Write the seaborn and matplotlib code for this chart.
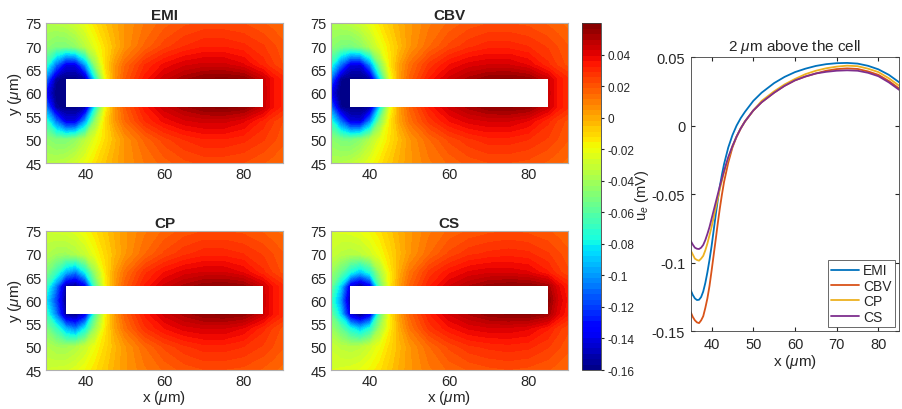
import matplotlib
matplotlib.use("Agg")
import matplotlib.pyplot as plt
from matplotlib.patches import Rectangle
import seaborn as sns
import numpy as np
import pandas as pd

# ---- field grids ----
x_grid = [30, 32.5, 35, 37.5, 40, 42.5, 45, 47.5, 50, 55, 60, 65, 70, 75, 80, 85, 87.5, 90]
y_grid = [45, 50, 54, 57, 60, 63, 66, 70, 75]

field_emi = [
    [-0.036, -0.035, -0.033, -0.028, -0.021, -0.013, -0.006, 0.000, 0.005, 0.012, 0.017, 0.021, 0.023, 0.023, 0.022, 0.019, 0.017, 0.015],
    [-0.045, -0.050, -0.050, -0.045, -0.034, -0.022, -0.012, -0.003, 0.005, 0.016, 0.024, 0.029, 0.032, 0.032, 0.030, 0.026, 0.023, 0.020],
    [-0.070, -0.108, -0.140, -0.140, -0.100, -0.044, -0.012, 0.004, 0.015, 0.029, 0.037, 0.042, 0.044, 0.044, 0.040, 0.031, 0.026, 0.022],
    [-0.105, -0.155, -0.160, -0.160, -0.152, -0.078, -0.020, 0.005, 0.018, 0.034, 0.045, 0.052, 0.057, 0.058, 0.056, 0.045, 0.036, 0.031],
    [-0.135, -0.160, -0.160, -0.160, -0.152, -0.080, -0.020, 0.005, 0.018, 0.034, 0.045, 0.052, 0.057, 0.058, 0.056, 0.046, 0.036, 0.031],
    [-0.105, -0.155, -0.160, -0.160, -0.152, -0.078, -0.020, 0.005, 0.018, 0.034, 0.045, 0.052, 0.057, 0.058, 0.056, 0.045, 0.036, 0.031],
    [-0.070, -0.108, -0.140, -0.140, -0.100, -0.044, -0.012, 0.004, 0.015, 0.029, 0.037, 0.042, 0.044, 0.044, 0.040, 0.031, 0.026, 0.022],
    [-0.045, -0.050, -0.050, -0.045, -0.034, -0.022, -0.012, -0.003, 0.005, 0.016, 0.024, 0.029, 0.032, 0.032, 0.030, 0.026, 0.023, 0.020],
    [-0.036, -0.035, -0.033, -0.028, -0.021, -0.013, -0.006, 0.000, 0.005, 0.012, 0.017, 0.021, 0.023, 0.023, 0.022, 0.019, 0.017, 0.015],
]

field_cbv = [
    [-0.037, -0.036, -0.034, -0.029, -0.022, -0.014, -0.007, -0.001, 0.004, 0.011, 0.016, 0.020, 0.022, 0.022, 0.021, 0.018, 0.016, 0.014],
    [-0.046, -0.051, -0.052, -0.047, -0.036, -0.023, -0.013, -0.004, 0.004, 0.015, 0.023, 0.028, 0.031, 0.031, 0.029, 0.025, 0.022, 0.019],
    [-0.072, -0.110, -0.142, -0.143, -0.105, -0.049, -0.015, 0.002, 0.013, 0.027, 0.036, 0.041, 0.043, 0.043, 0.039, 0.030, 0.025, 0.021],
    [-0.107, -0.156, -0.160, -0.160, -0.154, -0.083, -0.023, 0.003, 0.016, 0.033, 0.044, 0.051, 0.056, 0.057, 0.055, 0.044, 0.035, 0.030],
    [-0.137, -0.160, -0.160, -0.160, -0.154, -0.085, -0.023, 0.003, 0.016, 0.033, 0.044, 0.051, 0.056, 0.057, 0.055, 0.045, 0.035, 0.030],
    [-0.107, -0.156, -0.160, -0.160, -0.154, -0.083, -0.023, 0.003, 0.016, 0.033, 0.044, 0.051, 0.056, 0.057, 0.055, 0.044, 0.035, 0.030],
    [-0.072, -0.110, -0.142, -0.143, -0.105, -0.049, -0.015, 0.002, 0.013, 0.027, 0.036, 0.041, 0.043, 0.043, 0.039, 0.030, 0.025, 0.021],
    [-0.046, -0.051, -0.052, -0.047, -0.036, -0.023, -0.013, -0.004, 0.004, 0.015, 0.023, 0.028, 0.031, 0.031, 0.029, 0.025, 0.022, 0.019],
    [-0.037, -0.036, -0.034, -0.029, -0.022, -0.014, -0.007, -0.001, 0.004, 0.011, 0.016, 0.020, 0.022, 0.022, 0.021, 0.018, 0.016, 0.014],
]

field_cp = [
    [-0.029, -0.028, -0.027, -0.024, -0.019, -0.013, -0.007, -0.001, 0.004, 0.011, 0.016, 0.020, 0.022, 0.022, 0.021, 0.018, 0.016, 0.014],
    [-0.036, -0.040, -0.041, -0.037, -0.030, -0.020, -0.011, -0.003, 0.004, 0.015, 0.023, 0.028, 0.031, 0.031, 0.029, 0.025, 0.022, 0.019],
    [-0.050, -0.068, -0.095, -0.108, -0.080, -0.042, -0.015, 0.002, 0.013, 0.028, 0.036, 0.041, 0.043, 0.043, 0.039, 0.030, 0.025, 0.021],
    [-0.068, -0.105, -0.155, -0.160, -0.138, -0.062, -0.018, 0.004, 0.017, 0.033, 0.044, 0.051, 0.056, 0.057, 0.055, 0.044, 0.035, 0.030],
    [-0.082, -0.118, -0.158, -0.160, -0.138, -0.062, -0.018, 0.004, 0.017, 0.033, 0.044, 0.051, 0.056, 0.057, 0.055, 0.045, 0.035, 0.030],
    [-0.068, -0.105, -0.155, -0.160, -0.138, -0.062, -0.018, 0.004, 0.017, 0.033, 0.044, 0.051, 0.056, 0.057, 0.055, 0.044, 0.035, 0.030],
    [-0.050, -0.068, -0.095, -0.108, -0.080, -0.042, -0.015, 0.002, 0.013, 0.028, 0.036, 0.041, 0.043, 0.043, 0.039, 0.030, 0.025, 0.021],
    [-0.036, -0.040, -0.041, -0.037, -0.030, -0.020, -0.011, -0.003, 0.004, 0.015, 0.023, 0.028, 0.031, 0.031, 0.029, 0.025, 0.022, 0.019],
    [-0.029, -0.028, -0.027, -0.024, -0.019, -0.013, -0.007, -0.001, 0.004, 0.011, 0.016, 0.020, 0.022, 0.022, 0.021, 0.018, 0.016, 0.014],
]

field_cs = [
    [-0.026, -0.025, -0.024, -0.022, -0.018, -0.013, -0.007, -0.001, 0.004, 0.011, 0.016, 0.019, 0.021, 0.022, 0.021, 0.019, 0.017, 0.015],
    [-0.030, -0.034, -0.036, -0.034, -0.028, -0.020, -0.011, -0.003, 0.004, 0.015, 0.023, 0.028, 0.030, 0.031, 0.030, 0.026, 0.023, 0.020],
    [-0.042, -0.057, -0.078, -0.092, -0.075, -0.040, -0.016, 0.000, 0.012, 0.027, 0.035, 0.040, 0.042, 0.042, 0.040, 0.033, 0.027, 0.023],
    [-0.054, -0.087, -0.145, -0.160, -0.140, -0.058, -0.016, 0.003, 0.016, 0.032, 0.043, 0.050, 0.055, 0.057, 0.057, 0.052, 0.040, 0.033],
    [-0.066, -0.100, -0.158, -0.160, -0.140, -0.058, -0.016, 0.003, 0.016, 0.032, 0.043, 0.050, 0.055, 0.057, 0.057, 0.057, 0.043, 0.035],
    [-0.054, -0.087, -0.145, -0.160, -0.140, -0.058, -0.016, 0.003, 0.016, 0.032, 0.043, 0.050, 0.055, 0.057, 0.057, 0.052, 0.040, 0.033],
    [-0.042, -0.057, -0.078, -0.092, -0.075, -0.040, -0.016, 0.000, 0.012, 0.027, 0.035, 0.040, 0.042, 0.042, 0.040, 0.033, 0.027, 0.023],
    [-0.030, -0.034, -0.036, -0.034, -0.028, -0.020, -0.011, -0.003, 0.004, 0.015, 0.023, 0.028, 0.030, 0.031, 0.030, 0.026, 0.023, 0.020],
    [-0.026, -0.025, -0.024, -0.022, -0.018, -0.013, -0.007, -0.001, 0.004, 0.011, 0.016, 0.019, 0.021, 0.022, 0.021, 0.019, 0.017, 0.015],
]

# cell outline (white block)
cell_x = (35, 85)
cell_y = (57, 63)

u_min, u_max = -0.16, 0.06
cbar_ticks = [-0.16, -0.14, -0.12, -0.1, -0.08, -0.06, -0.04, -0.02, 0, 0.02, 0.04]

# ---- line profile 2 um above the cell ----
x_line = [35, 35.5, 36, 36.5, 37, 37.5, 38, 38.5, 39, 39.5, 40, 40.5, 41, 41.5, 42, 42.5, 43, 44, 45, 46,
          47, 48, 50, 52, 55, 57.5, 60, 62.5, 65, 67.5, 70, 72.5, 75, 77.5, 80, 82.5, 85]
ue_emi = [-0.120, -0.1235, -0.126, -0.1272, -0.127, -0.125, -0.121, -0.1148, -0.107, -0.098, -0.088, -0.0765,
          -0.065, -0.054, -0.044, -0.0355, -0.028, -0.016, -0.007, 0.000, 0.0055, 0.010, 0.018, 0.024,
          0.031, 0.0355, 0.039, 0.0415, 0.0435, 0.0448, 0.0455, 0.0457, 0.0452, 0.0436, 0.041, 0.037, 0.0315]
ue_cbv = [-0.136, -0.1395, -0.142, -0.1435, -0.144, -0.142, -0.139, -0.133, -0.126, -0.117, -0.106, -0.0945,
          -0.083, -0.071, -0.060, -0.050, -0.041, -0.027, -0.016, -0.008, -0.002, 0.003, 0.011, 0.017,
          0.024, 0.029, 0.033, 0.0358, 0.038, 0.040, 0.0412, 0.0417, 0.0413, 0.0395, 0.037, 0.0325, 0.027]
ue_cp = [-0.091, -0.094, -0.097, -0.098, -0.0985, -0.097, -0.095, -0.091, -0.086, -0.080, -0.074, -0.067,
         -0.060, -0.053, -0.046, -0.040, -0.034, -0.024, -0.015, -0.008, -0.002, 0.003, 0.011, 0.018,
         0.025, 0.030, 0.034, 0.0375, 0.040, 0.0418, 0.043, 0.0437, 0.0433, 0.0415, 0.039, 0.0345, 0.029]
ue_cs = [-0.084, -0.0868, -0.089, -0.0898, -0.090, -0.089, -0.087, -0.0835, -0.079, -0.074, -0.068, -0.062,
         -0.056, -0.050, -0.044, -0.0385, -0.033, -0.023, -0.015, -0.008, -0.002, 0.003, 0.011, 0.017,
         0.024, 0.029, 0.033, 0.0358, 0.038, 0.0392, 0.040, 0.0403, 0.040, 0.0385, 0.036, 0.0315, 0.026]

models = ["EMI", "CBV", "CP", "CS"]
line_colors = ["#0072BD", "#D95319", "#EDB120", "#7E2F8E"]

sns.set_style("ticks")
plt.rcParams["font.family"] = ["Liberation Sans", "DejaVu Sans"]
plt.rcParams["mathtext.fontset"] = "custom"
plt.rcParams["mathtext.rm"] = "Liberation Sans"
plt.rcParams["mathtext.it"] = "Liberation Sans:italic"

fig = plt.figure(figsize=(9.03, 4.10), dpi=100)

cmap = plt.get_cmap("jet")
levels = np.linspace(u_min, u_max, 65)

panels = [
    ("EMI", field_emi, [0.0509, 0.600, 0.2625, 0.3415]),
    ("CBV", field_cbv, [0.3662, 0.600, 0.2625, 0.3415]),
    ("CP", field_cp, [0.0509, 0.0951, 0.2625, 0.3398]),
    ("CS", field_cs, [0.3662, 0.0951, 0.2625, 0.3398]),
]

cs = None
for i, (name, field, pos) in enumerate(panels):
    ax = fig.add_axes(pos)
    cs = ax.contourf(x_grid, y_grid, np.array(field), levels=levels, cmap=cmap,
                     vmin=u_min, vmax=u_max)
    ax.add_patch(Rectangle((cell_x[0], cell_y[0]), cell_x[1] - cell_x[0],
                           cell_y[1] - cell_y[0], facecolor="white", edgecolor="none", zorder=3))
    ax.set_xlim(30, 90)
    ax.set_ylim(45, 75)
    ax.set_xticks([40, 60, 80])
    ax.set_yticks([45, 50, 55, 60, 65, 70, 75])
    ax.tick_params(length=0, labelsize=10.5, colors="#262626", pad=3)
    for sp in ax.spines.values():
        sp.set_color("#b0b0b0")
        sp.set_linewidth(0.8)
    ax.set_title(name, fontsize=11, fontweight="bold", pad=3)
    if i % 2 == 0:
        ax.set_ylabel(r"y ($\mu$m)", fontsize=11, labelpad=1)
    if i >= 2:
        ax.set_xlabel(r"x ($\mu$m)", fontsize=11, labelpad=0)

cax = fig.add_axes([0.6442, 0.0951, 0.0214, 0.8456])
cbar = fig.colorbar(cs, cax=cax)
cbar.set_ticks(cbar_ticks)
cbar.set_ticklabels(["%g" % t for t in cbar_ticks])
cbar.ax.tick_params(labelsize=8.5, length=2.5, colors="#262626", pad=2)
cbar.outline.set_edgecolor("#404040")
cbar.outline.set_linewidth(0.6)

# line panel
df = pd.DataFrame({
    "x": x_line * 4,
    "ue": ue_emi + ue_cbv + ue_cp + ue_cs,
    "model": sum([[m] * len(x_line) for m in models], []),
})

ax = fig.add_axes([0.7649, 0.1895, 0.2310, 0.669])
sns.lineplot(data=df, x="x", y="ue", hue="model", hue_order=models,
             palette=line_colors, estimator=None, linewidth=1.3, ax=ax)
ax.set_xlim(35, 85)
ax.set_ylim(-0.15, 0.05)
ax.set_xticks([40, 50, 60, 70, 80])
ax.set_yticks([-0.15, -0.1, -0.05, 0, 0.05])
ax.set_yticklabels(["-0.15", "-0.1", "-0.05", "0", "0.05"])
ax.tick_params(direction="in", length=3, labelsize=10.5, colors="#262626",
               top=True, right=True, pad=4)
for sp in ax.spines.values():
    sp.set_color("#404040")
    sp.set_linewidth(0.6)
ax.set_title(r"2 $\mu$m above the cell", fontsize=11, pad=5)
ax.set_xlabel(r"x ($\mu$m)", fontsize=11, labelpad=1)
ax.set_ylabel(r"u$_e$ (mV)", fontsize=10.5)
ax.yaxis.set_label_coords(-0.192, 0.5)
leg = ax.legend(loc="lower right", fontsize=10, frameon=True, fancybox=False,
                handlelength=2.0, handletextpad=0.3, borderpad=0.25,
                labelspacing=0.1, borderaxespad=0.3)
leg.get_frame().set_edgecolor("#262626")
leg.get_frame().set_linewidth(0.6)

fig.savefig("out.png", dpi=100)
